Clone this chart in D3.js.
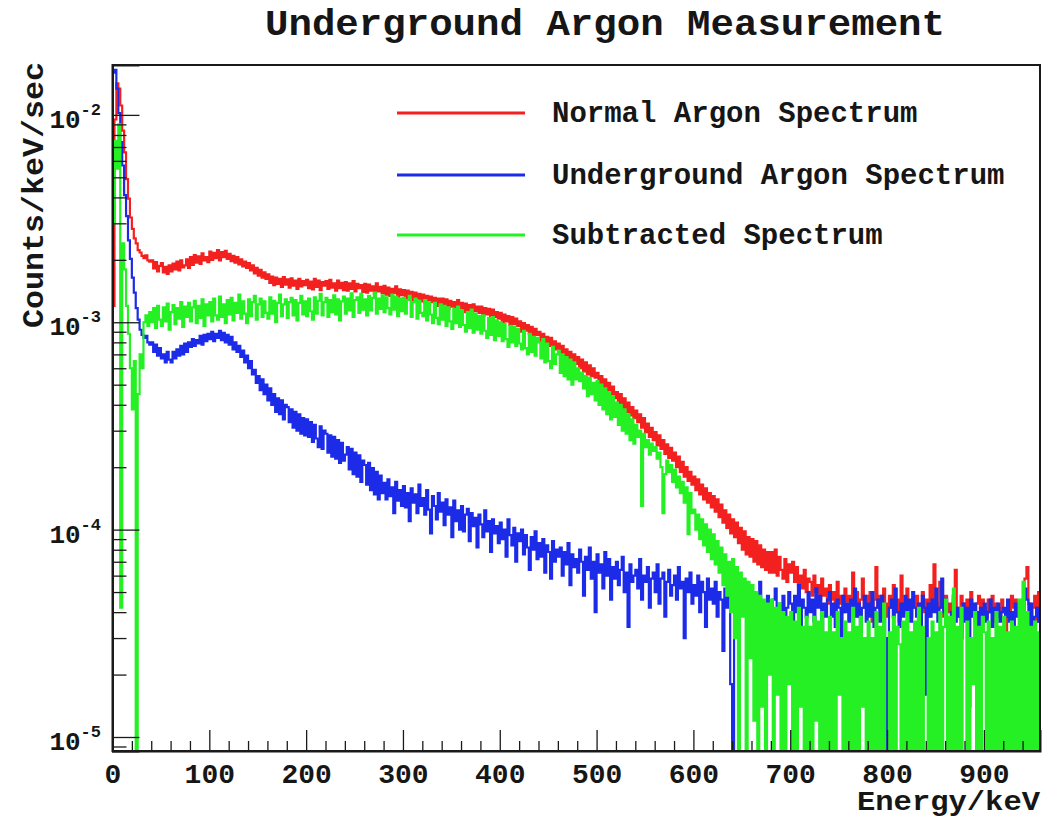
<!DOCTYPE html>
<html>
<head>
<meta charset="utf-8">
<script src="https://cdn.jsdelivr.net/npm/d3@7"></script>
<style>
  html, body { margin: 0; padding: 0; background: #ffffff; }
  svg { display: block; }
  text { font-family: "Liberation Mono", "Courier New", "DejaVu Sans Mono", monospace; font-weight: bold; fill: #161616; }
</style>
</head>
<body>
<svg id="chart" width="1044" height="820"></svg>
<script>
// ---------------- DATA ----------------
// Energy histogram: bins of 2 keV starting at 0 keV.
const binWidthKeV = 2;
const energyRangeKeV = [0, 958];
// Spectra in counts/keV/sec, written in units of 1e-6 (0 = empty / negative bin).
const normalArgon = [
  1200, 9500, 14200, 13400, 11100, 8400, 6600, 4900, 3950, 3200,
  2820, 2540, 2400, 2230, 2170, 2090, 2040, 2100, 1990, 1960,
  1990, 1820, 1950, 1760, 1870, 1930, 1740, 1850, 1710, 1880,
  1760, 1920, 1800, 1960, 1780, 1990, 1840, 1880, 2010, 1830,
  2060, 1890, 2110, 1940, 2080, 1910, 2150, 1990, 2060, 1950,
  2190, 2000, 2160, 2040, 2230, 1990, 2180, 2060, 2210, 2020,
  2140, 1970, 2090, 1940, 2060, 1900, 2010, 1860, 1960, 1830,
  1930, 1780, 1880, 1720, 1830, 1680, 1790, 1640, 1740, 1620,
  1700, 1550, 1660, 1510, 1640, 1530, 1620, 1480, 1650, 1520,
  1610, 1470, 1630, 1500, 1590, 1450, 1620, 1490, 1580, 1510,
  1600, 1460, 1570, 1440, 1620, 1480, 1590, 1430, 1560, 1500,
  1580, 1450, 1600, 1470, 1540, 1420, 1590, 1460, 1550, 1430,
  1560, 1420, 1540, 1450, 1580, 1410, 1530, 1460, 1510, 1400,
  1530, 1390, 1520, 1420, 1490, 1370, 1540, 1410, 1480, 1380,
  1500, 1360, 1470, 1340, 1450, 1380, 1490, 1330, 1440, 1350,
  1430, 1300, 1420, 1310, 1400, 1280, 1390, 1300, 1370, 1260,
  1360, 1240, 1340, 1220, 1330, 1250, 1310, 1200, 1300, 1230,
  1300, 1180, 1290, 1160, 1270, 1190, 1250, 1150, 1280, 1170,
  1240, 1120, 1230, 1140, 1210, 1100, 1220, 1130, 1190, 1110,
  1190, 1070, 1170, 1090, 1160, 1050, 1150, 1060, 1120, 1040,
  1110, 1000, 1090, 1010, 1070, 970, 1060, 980, 1040, 960,
  1010, 900, 990, 910, 970, 880, 950, 860, 930, 870,
  900, 810, 880, 790, 850, 770, 840, 760, 810, 740,
  790, 700, 770, 690, 740, 660, 720, 650, 700, 630,
  680, 600, 660, 580, 640, 560, 620, 550, 600, 540,
  570, 500, 550, 480, 530, 460, 510, 450, 490, 430,
  460, 400, 450, 380, 430, 370, 410, 355, 390, 345,
  375, 330, 360, 310, 345, 295, 325, 280, 310, 270,
  295, 255, 285, 245, 270, 232, 258, 222, 248, 215,
  235, 200, 225, 190, 212, 180, 200, 172, 190, 165,
  180, 155, 175, 148, 165, 140, 158, 135, 150, 128,
  145, 122, 140, 115, 132, 108, 124, 102, 118, 96,
  112, 92, 108, 86, 102, 80, 98, 76, 92, 74,
  90, 70, 88, 68, 84, 66, 80, 64, 78, 62,
  78, 62, 80, 60, 74, 64, 58, 72, 56, 68,
  62, 70, 56, 66, 54, 60, 52, 64, 50, 58,
  56, 48, 60, 50, 54, 46, 58, 48, 52, 44,
  54, 46, 50, 42, 56, 44, 48, 40, 52, 45,
  48, 40, 62, 44, 50, 38, 46, 58, 42, 48,
  40, 50, 36, 46, 66, 42, 48, 38, 52, 44,
  38, 48, 42, 54, 40, 46, 36, 60, 44, 40,
  52, 44, 38, 46, 42, 48, 18, 44, 50, 40,
  46, 38, 54, 42, 68, 44, 40, 56, 42, 38,
  48, 40, 44, 36, 46, 64, 42, 38, 48, 44,
  40, 46, 38, 50, 42, 36, 44, 48, 40, 46,
  42, 38, 46, 40, 48, 36, 44, 42, 38, 46,
  40, 20, 44, 38, 48, 42, 46, 40, 44, 38,
  46, 58, 66, 44, 38, 42, 48, 36, 50
];
const undergroundArgon = [
  16000, 16500, 13400, 10200, 7400, 5700, 4100, 3250, 2480, 2020,
  1640, 1390, 1170, 1030, 920, 870, 840, 860, 800, 780,
  800, 720, 780, 690, 750, 670, 700, 640, 720, 660,
  640, 720, 670, 740, 690, 770, 700, 790, 720, 800,
  760, 830, 770, 820, 790, 860, 780, 870, 810, 880,
  830, 900, 810, 880, 840, 910, 820, 890, 800, 870,
  780, 850, 740, 800, 720, 770, 680, 730, 640, 690,
  600, 650, 560, 590, 510, 550, 470, 530, 450, 500,
  420, 480, 400, 450, 370, 430, 360, 420, 340, 400,
  390, 330, 380, 310, 370, 300, 360, 290, 345, 285,
  340, 280, 330, 265, 320, 275, 250, 315, 245, 300,
  290, 235, 285, 225, 280, 220, 270, 210, 262, 215,
  230, 250, 195, 245, 185, 235, 180, 228, 170, 215,
  205, 165, 210, 155, 198, 148, 190, 140, 182, 150,
  168, 140, 175, 145, 160, 120, 170, 138, 155, 130,
  162, 128, 150, 110, 158, 135, 148, 120, 165, 130,
  142, 118, 155, 125, 96, 145, 130, 112, 150, 122,
  135, 105, 140, 118, 128, 92, 138, 110, 124, 100,
  130, 98, 118, 126, 88, 120, 104, 114, 82, 118,
  106, 92, 124, 98, 110, 78, 112, 96, 104, 86,
  108, 90, 100, 74, 112, 94, 84, 102, 70, 96,
  88, 100, 76, 94, 82, 64, 92, 80, 98, 72,
  86, 74, 90, 62, 84, 78, 58, 88, 70, 80,
  74, 82, 60, 78, 68, 86, 54, 76, 66, 72,
  62, 80, 70, 48, 74, 64, 82, 58, 70, 40,
  76, 62, 68, 52, 78, 60, 72, 46, 66, 58,
  70, 54, 64, 74, 50, 62, 34, 68, 56, 60,
  64, 52, 72, 46, 60, 56, 66, 42, 58, 62,
  50, 68, 44, 58, 62, 38, 56, 64, 48, 54,
  60, 46, 66, 52, 56, 30, 58, 50, 62, 44,
  54, 48, 60, 40, 56, 50, 34, 58, 46, 52,
  44, 56, 38, 50, 46, 26, 52, 42, 48, 18,
  0, 44, 50, 38, 46, 54, 40, 48, 36, 52,
  42, 50, 38, 46, 56, 40, 44, 34, 48, 42,
  38, 46, 52, 36, 44, 40, 48, 30, 42, 50,
  44, 36, 48, 40, 54, 34, 46, 42, 38, 50,
  40, 46, 36, 52, 42, 48, 30, 44, 38, 46,
  50, 38, 44, 34, 46, 42, 26, 48, 40, 44,
  36, 46, 40, 52, 38, 44, 32, 42, 48, 36,
  44, 38, 50, 34, 42, 46, 36, 48, 40, 30,
  0, 42, 46, 38, 52, 40, 34, 44, 38, 48,
  40, 46, 36, 50, 42, 38, 44, 22, 48, 42,
  16, 44, 38, 46, 40, 52, 36, 42, 58, 40,
  46, 34, 0, 40, 48, 36, 42, 38, 30, 44,
  36, 42, 14, 46, 38, 44, 40, 34, 42, 38,
  44, 36, 40, 46, 34, 42, 38, 44, 36, 40,
  42, 38, 46, 36, 40, 34, 44, 38, 42, 0,
  40, 52, 46, 34, 44, 28, 38, 42, 36
];
const subtracted = [
  3000, 7500, 5500, 9000, 42, 2400, 1800, 1200, 880, 600,
  380, 650, 0, 450, 700, 600, 1000, 1080, 960, 1120,
  1000, 1170, 940, 1200, 1030, 960, 1180, 1010, 1230, 920,
  1120, 1210, 980, 1170, 1040, 1250, 950, 1190, 1060, 1240,
  1010, 1180, 1270, 990, 1200, 1050, 1290, 960, 1220, 1080,
  1250, 1010, 1300, 1080, 1030, 1330, 1060, 1220, 990, 1280,
  1090, 1310, 1020, 1240, 1110, 1360, 1040, 1260, 1100, 990,
  1290, 1070, 1250, 1340, 1030, 1220, 1300, 1060, 1260, 1110,
  1040, 1320, 1100, 1270, 1000, 1240, 1360, 1070, 1220, 1290,
  1050, 1250, 1310, 1080, 1280, 1020, 1240, 1340, 1090, 1260,
  1070, 1300, 1130, 1030, 1320, 1100, 1270, 1370, 1080, 1250,
  1310, 1060, 1280, 1120, 1350, 1090, 1290, 1020, 1260, 1330,
  1100, 1300, 1140, 1380, 1060, 1280, 1320, 1110, 1370, 1150,
  1290, 1080, 1340, 1140, 1310, 1390, 1100, 1300, 1160, 1350,
  1120, 1320, 1170, 1090, 1360, 1150, 1330, 1070, 1300, 1130,
  1310, 1100, 1280, 1340, 1060, 1250, 1300, 1040, 1270, 1110,
  1070, 1280, 1020, 1250, 1090, 990, 1240, 1050, 980, 1220,
  1030, 1200, 960, 1180, 1010, 930, 1160, 990, 1190, 950,
  1140, 970, 900, 1120, 940, 1150, 890, 1100, 920, 1070,
  880, 1080, 910, 840, 1050, 870, 1060, 820, 1020, 860,
  1000, 810, 980, 830, 760, 960, 800, 950, 770, 930,
  790, 740, 910, 750, 700, 880, 720, 850, 690, 840,
  800, 670, 830, 640, 790, 650, 600, 760, 630, 700,
  730, 570, 700, 550, 680, 530, 660, 500, 640, 530,
  600, 520, 570, 480, 550, 440, 540, 450, 510, 420,
  520, 400, 500, 380, 480, 360, 460, 340, 440, 350,
  410, 320, 400, 300, 380, 290, 360, 270, 340, 260,
  320, 280, 300, 130, 290, 250, 270, 230, 260, 240,
  250, 220, 235, 200, 120, 185, 215, 190, 205, 170,
  195, 160, 180, 150, 170, 135, 160, 95, 150, 120,
  125, 100, 118, 90, 112, 84, 106, 78, 100, 72,
  95, 68, 88, 62, 82, 54, 76, 48, 70, 40,
  72, 30, 66, 0, 62, 38, 58, 0, 56, 24,
  54, 12, 50, 0, 48, 14, 46, 0, 44, 20,
  46, 0, 42, 16, 44, 0, 40, 0, 38, 18,
  40, 0, 36, 0, 42, 14, 34, 0, 38, 0,
  34, 0, 38, 12, 36, 0, 40, 0, 32, 0,
  38, 0, 32, 0, 40, 16, 30, 0, 36, 0,
  32, 0, 42, 0, 34, 0, 38, 14, 30, 0,
  36, 0, 30, 0, 40, 0, 34, 0, 44, 0,
  0, 32, 0, 38, 0, 34, 28, 0, 36, 0,
  40, 0, 32, 0, 36, 0, 42, 0, 34, 0,
  0, 30, 0, 36, 0, 32, 0, 40, 0, 34,
  46, 0, 38, 0, 52, 0, 34, 0, 42, 0,
  0, 36, 0, 30, 18, 40, 0, 34, 0, 38,
  32, 0, 36, 0, 30, 0, 40, 0, 34, 0,
  38, 0, 32, 0, 36, 0, 34, 0, 46, 0,
  56, 0, 40, 0, 34, 0, 36, 0, 32
];
const valueUnit = 1e-6;
const seriesNames = ["Normal Argon Spectrum", "Underground Argon Spectrum", "Subtracted Spectrum"];
const xTickValues = [0, 100, 200, 300, 400, 500, 600, 700, 800, 900];
const xMinorStep = 20;
const yDecades = [-2, -3, -4, -5];
const yRange = [8.56e-6, 1.74e-2];
const chartTitle = "Underground Argon Measurement";
const xTitle = "Energy/keV";
const yTitle = "Counts/keV/sec";

// ---------------- LAYOUT / STYLE ----------------
const plot = { left: 112.5, right: 1040, top: 65, bottom: 751 };
const colors = ["#f2201e", "#1b2be8", "#24f024"];

const svg = d3.select("#chart");
svg.append("rect").attr("width", 1044).attr("height", 820).attr("fill", "#fff");

const x = d3.scaleLinear().domain(energyRangeKeV).range([plot.left, plot.right]);
const y = d3.scaleLog().domain(yRange).range([plot.bottom, plot.top]);

svg.append("clipPath").attr("id", "clip")
  .append("rect")
  .attr("x", plot.left).attr("y", plot.top)
  .attr("width", plot.right - plot.left).attr("height", plot.bottom - plot.top);

const floorVal = yRange[0] * 0.3;
function histPoints(arr) {
  const pts = arr.map((v, i) => [i * binWidthKeV, Math.max(v * valueUnit, floorVal)]);
  const last = arr.length - 1;
  pts.push([Math.min((last + 1) * binWidthKeV, energyRangeKeV[1]), Math.max(arr[last] * valueUnit, floorVal)]);
  return pts;
}
const line = d3.line()
  .x(d => x(d[0]))
  .y(d => y(d[1]))
  .curve(d3.curveStepAfter);

const dataG = svg.append("g").attr("clip-path", "url(#clip)");
[normalArgon, undergroundArgon, subtracted].forEach((arr, k) => {
  dataG.append("path")
    .attr("d", line(histPoints(arr)))
    .attr("fill", "none")
    .attr("stroke", colors[k])
    .attr("stroke-width", 2.2)
    .attr("stroke-linejoin", "miter");
});

// Frame
svg.append("rect")
  .attr("x", plot.left).attr("y", plot.top)
  .attr("width", plot.right - plot.left).attr("height", plot.bottom - plot.top)
  .attr("fill", "none").attr("stroke", "#1a1a1a").attr("stroke-width", 2);

// X axis: minor ticks
const xMinor = d3.range(energyRangeKeV[0], energyRangeKeV[1] + 1, xMinorStep).filter(v => v % 100 !== 0);
const gxMinor = svg.append("g").attr("transform", `translate(0,${plot.bottom})`)
  .call(d3.axisBottom(x).tickValues(xMinor).tickSize(-10).tickFormat(""));
gxMinor.select(".domain").remove();
// X axis: major ticks + labels
const gx = svg.append("g").attr("transform", `translate(0,${plot.bottom})`)
  .call(d3.axisBottom(x).tickValues(xTickValues).tickSize(-21).tickPadding(0).tickFormat(d3.format("d")));
gx.select(".domain").attr("stroke", "#1a1a1a").attr("stroke-width", 2);
gx.selectAll("text").attr("dy", null).attr("y", 32)
  .style("font-size", "28px").style("fill", "#161616")
  .style("font-family", "'Liberation Mono', 'Courier New', monospace").style("font-weight", "bold");
[gx, gxMinor].forEach(g => g.selectAll(".tick line").attr("stroke", "#1a1a1a").attr("stroke-width", 1.3));

// Y axis: minor ticks
const yMinorVals = [];
[-6, -5, -4, -3, -2].forEach(dec => {
  for (let m = 2; m <= 9; m++) {
    const v = m * Math.pow(10, dec);
    if (v >= yRange[0] && v <= yRange[1]) yMinorVals.push(v);
  }
});
const gyMinor = svg.append("g").attr("transform", `translate(${plot.left},0)`)
  .call(d3.axisLeft(y).tickValues(yMinorVals).tickSize(-14).tickFormat(""));
gyMinor.select(".domain").remove();
const yMajorVals = yDecades.map(d => Math.pow(10, d));
const gy = svg.append("g").attr("transform", `translate(${plot.left},0)`)
  .call(d3.axisLeft(y).tickValues(yMajorVals).tickSize(-27).tickFormat(""));
gy.select(".domain").attr("stroke", "#1a1a1a").attr("stroke-width", 2);
[gy, gyMinor].forEach(g => g.selectAll(".tick line").attr("stroke", "#1a1a1a").attr("stroke-width", 1.3));

// Y tick labels 10^n
yDecades.forEach(dec => {
  const yy = y(Math.pow(10, dec));
  const t = svg.append("text")
    .attr("x", 101).attr("y", yy + 13)
    .attr("text-anchor", "end")
    .style("font-size", "26px");
  t.append("tspan").text("10");
  t.append("tspan").attr("dy", -13).style("font-size", "17px").text(String(dec));
});

// Titles
svg.append("text")
  .attr("x", 605).attr("y", 35)
  .attr("text-anchor", "middle")
  .attr("textLength", 680).attr("lengthAdjust", "spacingAndGlyphs")
  .style("font-size", "37px")
  .text(chartTitle);

svg.append("text")
  .attr("x", 1040).attr("y", 810)
  .attr("text-anchor", "end")
  .attr("textLength", 183).attr("lengthAdjust", "spacingAndGlyphs")
  .style("font-size", "27px")
  .text(xTitle);

svg.append("text")
  .attr("transform", "translate(43,195) rotate(-90)")
  .attr("text-anchor", "middle")
  .attr("textLength", 266).attr("lengthAdjust", "spacingAndGlyphs")
  .style("font-size", "29px")
  .text(yTitle);

// Legend
const legendY = [113, 175, 235];
seriesNames.forEach((name, k) => {
  svg.append("line")
    .attr("x1", 397).attr("x2", 525)
    .attr("y1", legendY[k]).attr("y2", legendY[k])
    .attr("stroke", colors[k]).attr("stroke-width", 3);
  svg.append("text")
    .attr("x", 552).attr("y", legendY[k] + 9)
    .style("font-size", "29px")
    .text(name);
});
</script>
</body>
</html>
